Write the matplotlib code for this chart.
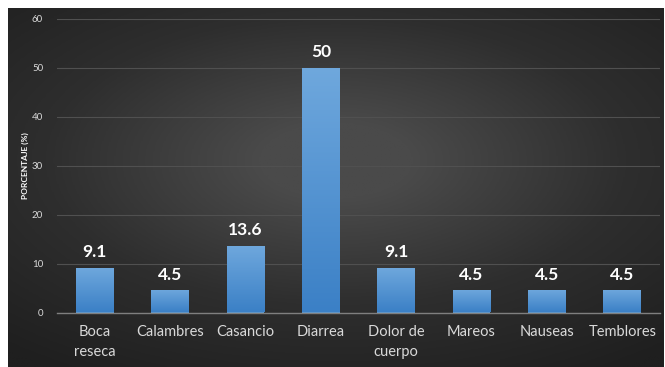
import numpy as np
import matplotlib.pyplot as plt
from matplotlib.colors import LinearSegmentedColormap

categories = ["Boca\nreseca", "Calambres", "Casancio", "Diarrea",
              "Dolor de\ncuerpo", "Mareos", "Nauseas", "Temblores"]
values = [9.1, 4.5, 13.6, 50, 9.1, 4.5, 4.5, 4.5]
value_labels = ["9.1", "4.5", "13.6", "50", "9.1", "4.5", "4.5", "4.5"]
y_ticks = [0, 10, 20, 30, 40, 50, 60]

plt.rcParams['font.family'] = ['Lato', 'DejaVu Sans']

fig = plt.figure(figsize=(6.65, 3.67), dpi=100)
fig.patch.set_facecolor('white')

# dark radial background panel
bg = fig.add_axes([8 / 665, 0, 656 / 665, 359 / 367])
bg.set_axis_off()
yy, xx = np.mgrid[-1:1:300j, -1:1:500j]
r = np.sqrt((xx / 1.1) ** 2 + ((yy + 0.15) / 1.0) ** 2)
shade = np.clip(1 - r / 1.4, 0, 1)
bg_cmap = LinearSegmentedColormap.from_list('bg', ['#1f1f1f', '#2e2e2e', '#4a4a4a'])
bg.imshow(shade, cmap=bg_cmap, aspect='auto', extent=[0, 1, 0, 1], vmin=0, vmax=0.85)
bg.set_xlim(0, 1)
bg.set_ylim(0, 1)

ax = fig.add_axes([57 / 665, 54.5 / 367, 603 / 665, 293.5 / 367])
ax.patch.set_alpha(0)

x = np.arange(len(categories))
bars = ax.bar(x, values, width=0.5, color='#5b9bd5', zorder=2)

# vertical gradient inside each bar
bar_cmap = LinearSegmentedColormap.from_list('bar', ['#3b80c6', '#6fa8dd'])
grad = np.linspace(0, 1, 256).reshape(-1, 1)
for b in bars:
    x0, w, h = b.get_x(), b.get_width(), b.get_height()
    im = ax.imshow(grad, cmap=bar_cmap, aspect='auto', origin='lower',
                   extent=[x0, x0 + w, 0, h], zorder=3)
    im.set_clip_path(b)

for xi, v, lab in zip(x, values, value_labels):
    ax.text(xi, v + 1.6, lab, ha='center', va='bottom', color='white',
            fontsize=12.5, fontweight='bold', zorder=4)

ax.set_xlim(-0.5, len(categories) - 0.5)
ax.set_ylim(0, 60)
ax.set_yticks(y_ticks)
ax.set_xticks(x)
ax.set_xticklabels(categories, color='#d9d9d9', fontsize=10.5, linespacing=1.55)
ax.tick_params(axis='y', colors='#d9d9d9', labelsize=7, length=0, pad=10)
ax.tick_params(axis='x', length=0, pad=9)
ax.grid(axis='y', color='#505050', linewidth=0.8, zorder=0)
for s in ['top', 'right', 'left']:
    ax.spines[s].set_visible(False)
ax.spines['bottom'].set_color('#7f7f7f')
ax.spines['bottom'].set_linewidth(1.0)
ax.spines['bottom'].set_zorder(5)

ax.set_ylabel('PORCENTAJE (%)', color='white', fontsize=6, fontweight='bold',
              labelpad=2)

fig.savefig('out.png', dpi=100, facecolor=fig.get_facecolor())
